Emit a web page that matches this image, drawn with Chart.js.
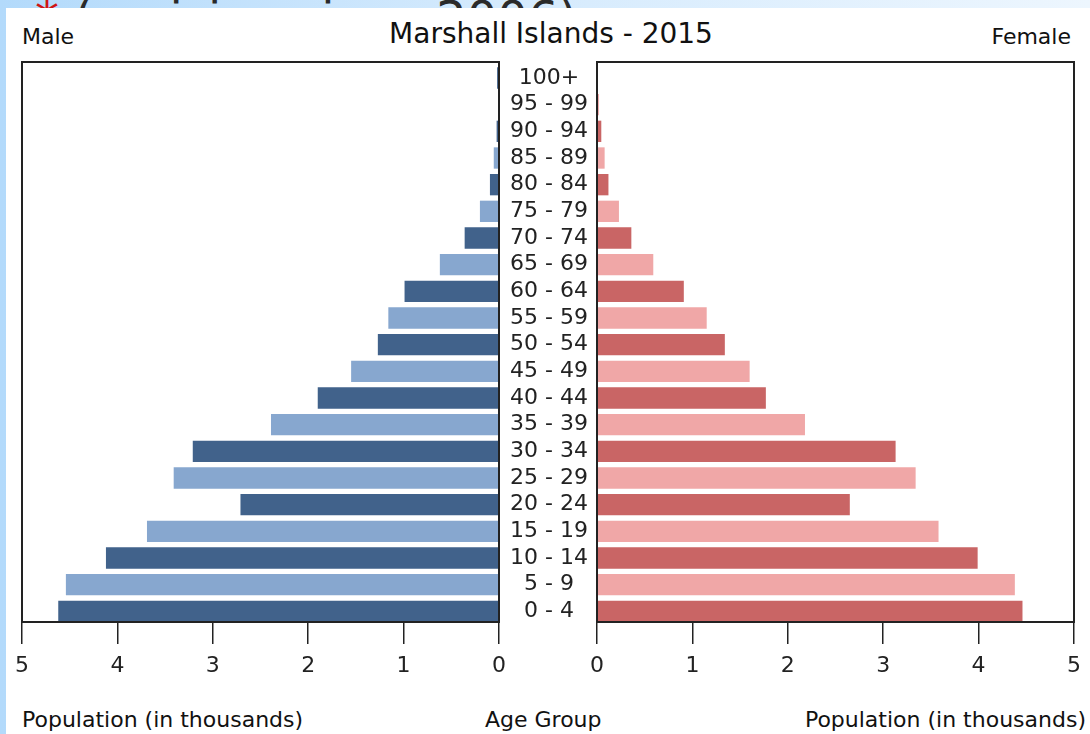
<!DOCTYPE html>
<html>
<head>
<meta charset="utf-8">
<script src="https://cdn.jsdelivr.net/npm/chart.js@4/dist/chart.umd.min.js"></script>
<style>
  body { margin: 0; width: 1090px; height: 734px; overflow: hidden; position: relative;
    background: linear-gradient(90deg, #b3dafb 0%, #d4eafd 45%, #edf6fe 100%);
    font-family: "DejaVu Sans", sans-serif; }
  #banner { position: absolute; z-index: 0; left: 35px; top: -6px; font-size: 48px; line-height: 48px; color: #2a2a2a; white-space: nowrap; }
  #banner span { color: #d01414; }
  #panel { position: absolute; z-index: 1; left: 6px; top: 8px; right: 0; bottom: 0; background: #fff; }
  .lbl { position: absolute; z-index: 2; font-size: 22px; line-height: 26px; color: #111; white-space: nowrap; }
  #title { position: absolute; z-index: 2; left: 0; width: 1102px; top: 18px; text-align: center; font-size: 28px; line-height: 32px; color: #111; }
  .box { position: absolute; z-index: 3; top: 0; height: 700px; }
</style>
</head>
<body>
<div id="banner"><span>*</span> (revision since 2006)</div>
<div id="panel"></div>
<div id="title">Marshall Islands - 2015</div>
<div class="lbl" style="left:22px; top:24px;">Male</div>
<div class="lbl" style="right:19px; top:24px;">Female</div>
<div class="lbl" style="left:22px; top:707px;">Population (in thousands)</div>
<div class="lbl" style="left:485px; top:707px;">Age Group</div>
<div class="lbl" style="right:4px; top:707px;">Population (in thousands)</div>
<div class="box" style="left:0; width:597px;"><canvas id="male"></canvas></div>
<div class="box" style="left:580px; width:510px;"><canvas id="female"></canvas></div>
<script>
const ageGroups = ['0 - 4', '5 - 9', '10 - 14', '15 - 19', '20 - 24', '25 - 29', '30 - 34',
  '35 - 39', '40 - 44', '45 - 49', '50 - 54', '55 - 59', '60 - 64', '65 - 69', '70 - 74',
  '75 - 79', '80 - 84', '85 - 89', '90 - 94', '95 - 99', '100+'];
// population in thousands
const male = [4.62, 4.54, 4.12, 3.69, 2.71, 3.41, 3.21, 2.39, 1.90, 1.55, 1.27, 1.16, 0.99,
  0.62, 0.36, 0.20, 0.095, 0.055, 0.025, 0, 0.02];
const female = [4.46, 4.38, 3.99, 3.58, 2.65, 3.34, 3.13, 2.18, 1.77, 1.60, 1.34, 1.15, 0.91,
  0.59, 0.36, 0.23, 0.12, 0.08, 0.045, 0.02, 0];
const xTicks = [0, 1, 2, 3, 4, 5];

const maleColors = ['#41628b', '#87a7cf'];
const femaleColors = ['#c96565', '#f0a7a7'];
const ink = '#222';
const tickFont = { family: 'DejaVu Sans', size: 22 };

// box round each plot
const frame = {
  id: 'frame',
  afterDatasetsDraw(chart) {
    const { ctx, chartArea: a } = chart;
    ctx.save();
    ctx.strokeStyle = ink;
    ctx.lineWidth = 2;
    ctx.strokeRect(a.left, a.top, a.right - a.left, a.bottom - a.top);
    ctx.restore();
  }
};

function xScale(reverse) {
  return {
    type: 'linear', reverse: reverse, min: xTicks[0], max: xTicks[xTicks.length - 1],
    afterBuildTicks: s => { s.ticks = xTicks.map(v => ({ value: v })); },
    afterFit: s => { s.height = 78; },
    border: { display: false },
    grid: { drawOnChartArea: false, drawTicks: true, tickLength: 22, color: ink, lineWidth: 1.5 },
    ticks: { font: tickFont, color: ink, padding: 9, maxRotation: 0 }
  };
}

function pyramidSide(id, values, colors, reverse, showLabels, padding) {
  new Chart(document.getElementById(id), {
    type: 'bar',
    data: {
      datasets: [{
        data: values.map((v, i) => ({ x: v, y: i })),
        backgroundColor: values.map((v, i) => colors[i % 2]),
        borderWidth: 0,
        barPercentage: 0.8,
        categoryPercentage: 1
      }]
    },
    options: {
      indexAxis: 'y',
      responsive: true,
      maintainAspectRatio: false,
      animation: false,
      layout: { padding: padding },
      plugins: { legend: { display: false }, tooltip: { enabled: false }, title: { display: false } },
      scales: {
        x: xScale(reverse),
        y: {
          type: 'linear', position: 'right', display: showLabels, offset: false,
          min: -0.4, max: ageGroups.length - 0.4,
          afterBuildTicks: s => { s.ticks = ageGroups.map((g, i) => ({ value: i })); },
          afterFit: s => { if (showLabels) s.width = 98; },
          border: { display: false },
          grid: { display: false },
          ticks: { font: tickFont, color: ink, crossAlign: 'center', autoSkip: false,
            callback: v => ageGroups[v] }
        }
      }
    },
    plugins: [frame]
  });
}

pyramidSide('male', male, maleColors, true, true, { left: 22, top: 62, right: 0, bottom: 0 });
pyramidSide('female', female, femaleColors, false, false, { left: 17, top: 62, right: 15, bottom: 0 });
</script>
</body>
</html>
